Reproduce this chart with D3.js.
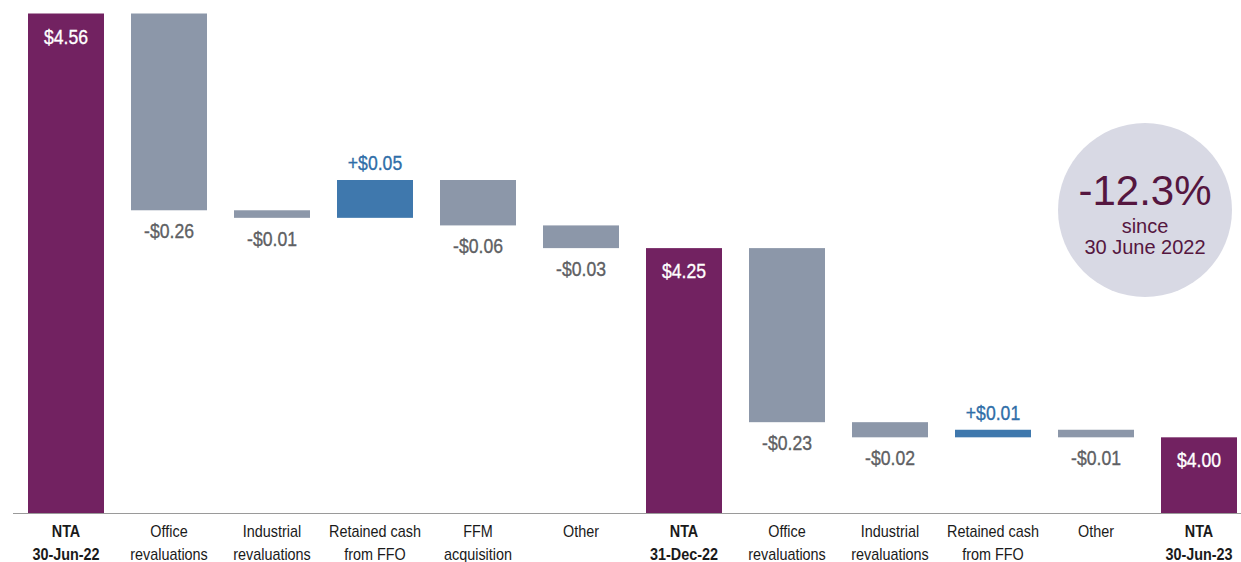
<!DOCTYPE html>
<html>
<head>
<meta charset="utf-8">
<script src="https://cdn.jsdelivr.net/npm/d3@7"></script>
<style>
  html, body { margin: 0; padding: 0; background: #fff; }
  svg { display: block; }
  .cond { font-family: "Liberation Sans", Arial, sans-serif; }
</style>
</head>
<body>
<svg id="chart" width="1241" height="562"></svg>
<script>
// ---- data ----
const categories = [
  "NTA|30-Jun-22", "Office|revaluations", "Industrial|revaluations", "Retained cash|from FFO",
  "FFM|acquisition", "Other", "NTA|31-Dec-22", "Office|revaluations", "Industrial|revaluations",
  "Retained cash|from FFO", "Other", "NTA|30-Jun-23"
];
const kinds = ["total", "delta", "delta", "delta", "delta", "delta", "total", "delta", "delta", "delta", "delta", "total"];
const values = [4.56, -0.26, -0.01, 0.05, -0.06, -0.03, 4.25, -0.23, -0.02, 0.01, -0.01, 4.00];
const yDomain = [3.9, 4.56];
const badgeTexts = ["-12.3%", "since", "30 June 2022"];

// ---- build waterfall steps ----
let running = 0;
const steps = categories.map((c, i) => {
  let start, end;
  if (kinds[i] === "total") { start = yDomain[0]; end = values[i]; running = values[i]; }
  else { start = running; end = running + values[i]; running = end; }
  return { key: i, label: c.split("|"), kind: kinds[i], value: values[i], start, end };
});

const svg = d3.select("#chart");
const W = 1241, H = 562;
const baseY = 513;

const x = d3.scaleBand()
  .domain(steps.map(d => d.key))
  .range([28, 28 + 103 * 12 - 27])
  .paddingInner(27 / 103)
  .paddingOuter(0);

const y = d3.scaleLinear().domain(yDomain).range([baseY, 13.5]);

const colors = { total: "#722261", neg: "#8c97a9", pos: "#3f78ad" };
const colorOf = d => d.kind === "total" ? colors.total : (d.value >= 0 ? colors.pos : colors.neg);

// bars
svg.append("g").selectAll("rect").data(steps).join("rect")
  .attr("x", d => x(d.key))
  .attr("width", x.bandwidth())
  .attr("y", d => y(Math.max(d.start, d.end)))
  .attr("height", d => Math.abs(y(d.start) - y(d.end)))
  .attr("fill", colorOf);

// axis line
svg.append("line")
  .attr("x1", 13).attr("x2", W).attr("y1", baseY + 0.5).attr("y2", baseY + 0.5)
  .attr("stroke", "#9a9a9a").attr("stroke-width", 1);

const SX = 0.84; // condensed look

// value labels
const fmt = v => (v < 0 ? "-$" : (v > 0 ? "+$" : "$")) + Math.abs(v).toFixed(2);
const vl = svg.append("g").attr("class", "cond").selectAll("g").data(steps).join("g")
  .attr("transform", d => {
    let ty;
    if (d.kind === "total") ty = y(d.end) + 30;
    else if (d.value < 0) ty = y(d.end) + 28;
    else ty = y(d.end) - 10;
    return `translate(${x(d.key) + x.bandwidth() / 2},${ty}) scale(${SX},1)`;
  });
vl.append("text")
  .attr("text-anchor", "middle")
  .attr("font-size", 21)
  .attr("fill", d => d.kind === "total" ? "#ffffff" : (d.value < 0 ? "#5e6063" : "#2f6ea8"))
  .attr("stroke", d => d.kind === "total" ? "#ffffff" : (d.value < 0 ? "#5e6063" : "#2f6ea8"))
  .attr("stroke-width", 0.35)
  .text(d => d.kind === "total" ? "$" + d.value.toFixed(2) : fmt(d.value));

// category labels
const cg = svg.append("g").attr("class", "cond").selectAll("g").data(steps).join("g")
  .attr("transform", d => `translate(${x(d.key) + x.bandwidth() / 2},537) scale(0.9,1)`);
const cl = cg.append("text")
  .attr("text-anchor", "middle")
  .attr("font-size", 16)
  .attr("font-weight", d => d.kind === "total" ? "bold" : "normal")
  .attr("fill", "#1a1a1a");
cl.selectAll("tspan").data(d => d.label).join("tspan")
  .attr("x", 0)
  .attr("dy", (t, i) => i === 0 ? 0 : 23)
  .text(t => t);

// badge
const bx = 1145, by = 210, br = 87;
svg.append("circle").attr("cx", bx).attr("cy", by).attr("r", br).attr("fill", "#d8d9e4");
const bt = svg.append("g").attr("font-family", "'Liberation Sans', Arial, sans-serif").attr("fill", "#55163f").attr("text-anchor", "middle");
bt.append("text").attr("x", bx).attr("y", 205).attr("font-size", 42).text(badgeTexts[0]);
bt.append("text").attr("x", bx).attr("y", 233).attr("font-size", 20).text(badgeTexts[1]);
bt.append("text").attr("x", bx).attr("y", 254).attr("font-size", 20).text(badgeTexts[2]);
</script>
</body>
</html>
